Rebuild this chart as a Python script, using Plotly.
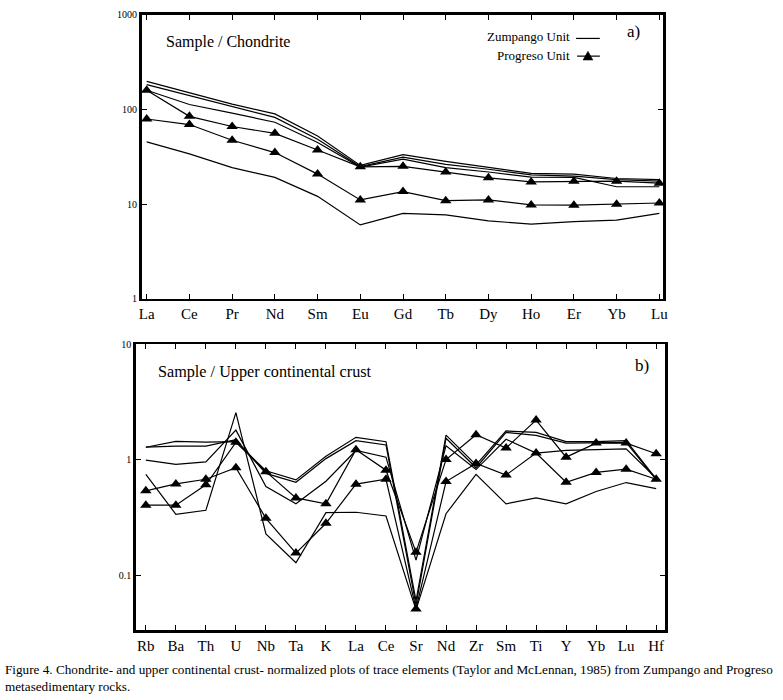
import plotly.graph_objects as go
import math

W, H = 783, 700

# ---------------- data: panel a (Sample / Chondrite) ----------------
ree = ["La", "Ce", "Pr", "Nd", "Sm", "Eu", "Gd", "Tb", "Dy", "Ho", "Er", "Yb", "Lu"]
zump_a1 = [198, 151, 114, 90, 52.5, 25.7, 33.4, 28.3, 24.7, 21.2, 20.8, 18.7, 18.2]
zump_a2 = [183, 140, 107, 82.6, 48.5, 25.0, 31.4, 26.3, 23.4, 20.4, 19.8, 18.2, 17.5]
zump_a3 = [160, 113, 91.6, 73.4, 44.9, 24.7, 29.9, 24.3, 21.9, 19.3, 19.2, 15.3, 15.3]
zump_a4 = [45.6, 34, 24.3, 19.2, 12.1, 6.05, 8.0, 7.7, 6.67, 6.16, 6.56, 6.78, 8.0]
prog_a1 = [160, 84.7, 66.2, 56, 37.4, 24.8, 25.1, 21.9, 19.0, 17.2, 17.5, 17.5, 16.7]
prog_a2 = [79.4, 69.4, 47.4, 35.1, 20.8, 11.1, 13.6, 10.9, 11.1, 9.84, 9.77, 10.0, 10.3]

# ---------------- data: panel b (Sample / Upper continental crust) ----------------
tr = ["Rb", "Ba", "Th", "U", "Nb", "Ta", "K", "La", "Ce", "Sr", "Nd", "Zr", "Sm", "Ti", "Y", "Yb", "Lu", "Hf"]
zump_b1 = [1.28, 1.44, 1.415, 1.43, 0.80, 0.667, 1.07, 1.56, 1.43, 0.060, 1.63, 0.90, 1.77, 1.72, 1.43, 1.43, 1.46, 0.68]
zump_b2 = [1.28, 1.31, 1.31, 1.49, 0.76, 0.637, 1.02, 1.46, 1.34, 0.055, 1.53, 0.85, 1.72, 1.62, 1.39, 1.40, 1.41, 0.67]
zump_b3 = [0.99, 0.91, 0.955, 1.80, 0.585, 0.414, 0.65, 1.20, 1.05, 0.135, 1.32, 0.82, 1.50, 1.14, 1.20, 1.22, 1.24, 0.69]
zump_b4 = [0.745, 0.336, 0.364, 2.55, 0.227, 0.128, 0.347, 0.35, 0.325, 0.050, 0.34, 0.745, 0.414, 0.466, 0.414, 0.53, 0.633, 0.56]
prog_b1 = [0.403, 0.403, 0.605, 1.41, 0.786, 0.466, 0.414, 1.22, 0.81, 0.158, 1.0, 1.64, 1.26, 2.2, 1.05, 1.39, 1.39, 1.125]
prog_b2 = [0.537, 0.616, 0.676, 0.85, 0.31, 0.155, 0.281, 0.613, 0.676, 0.051, 0.645, 0.925, 0.735, 1.14, 0.637, 0.775, 0.827, 0.676]

ticks_a = [1, 10, 100, 1000]
ticks_b = [0.1, 1, 10]

caption = ("Figure 4. Chondrite- and upper continental crust- normalized plots of trace elements "
           "(Taylor and McLennan, 1985) from Zumpango and Progreso<br>metasedimentary rocks.")

SERIF = '"Liberation Serif", "Times New Roman", serif'


def px(x):
    return x / W


def py(y):
    return 1 - y / H


fig = go.Figure()


def add(x, y, xa, ya, tri):
    fig.add_trace(go.Scatter(
        x=x, y=y, xaxis=xa, yaxis=ya,
        mode="lines+markers" if tri else "lines",
        line=dict(color="black", width=1.2),
        marker=dict(symbol="triangle-up", size=10, color="black"),
        showlegend=False, hoverinfo="skip"))


for s in (zump_a1, zump_a2, zump_a3, zump_a4):
    add(ree, s, "x", "y", False)
for s in (prog_a1, prog_a2):
    add(ree, s, "x", "y", True)
for s in (zump_b1, zump_b2, zump_b3, zump_b4):
    add(tr, s, "x2", "y2", False)
for s in (prog_b1, prog_b2):
    add(tr, s, "x2", "y2", True)

axis_common = dict(showline=True, linecolor="black", linewidth=2.5, mirror="allticks",
                   ticks="inside", ticklen=5, tickwidth=1, tickcolor="black",
                   showgrid=False, zeroline=False)

fig.update_layout(
    width=W, height=H,
    margin=dict(l=0, r=0, t=0, b=0),
    paper_bgcolor="white", plot_bgcolor="white",
    font=dict(family=SERIF, color="black"),
    xaxis=dict(domain=[px(140), px(667)], anchor="y", type="category",
               categoryorder="array", categoryarray=ree,
               range=[-0.12, 12.09], tickfont=dict(size=15, family=SERIF), **axis_common),
    yaxis=dict(domain=[py(298), py(9)], anchor="x", type="log", range=[0, 3],
               tickvals=ticks_a, ticktext=[str(v) for v in ticks_a],
               tickfont=dict(size=10, family=SERIF), **axis_common),
    xaxis2=dict(domain=[px(134), px(669)], anchor="y2", type="category",
                categoryorder="array", categoryarray=tr,
                range=[-0.34, 17.3], tickfont=dict(size=15, family=SERIF), **axis_common),
    yaxis2=dict(domain=[py(635), py(344)], anchor="x2", type="log",
                range=[math.log10(0.0334), 1],
                tickvals=ticks_b, ticktext=[str(v) for v in ticks_b],
                tickfont=dict(size=10, family=SERIF), **axis_common),
)

ann = []


def text(x, y, s, size, xanchor="left"):
    ann.append(dict(x=px(x), y=py(y), xref="paper", yref="paper", text=s, showarrow=False,
                    xanchor=xanchor, yanchor="middle", font=dict(size=size, family=SERIF, color="black")))


text(163, 37, "Sample / Chondrite", 16)
text(628, 26, "a)", 17)
text(575, 31, "Zumpango Unit", 13, "right")
text(575, 50, "Progreso Unit", 13, "right")
text(155, 372, "Sample / Upper continental crust", 16.2)
text(636, 366, "b)", 17)
ann.append(dict(x=px(0), y=py(665), xref="paper", yref="paper", text=caption, showarrow=False,
                xanchor="left", yanchor="top", align="left",
                font=dict(size=13.2, family=SERIF, color="black")))
fig.update_layout(annotations=ann)

shapes = [
    dict(type="line", xref="paper", yref="paper", x0=px(579), x1=px(603), y0=py(33), y1=py(33),
         line=dict(color="black", width=1.2)),
    dict(type="line", xref="paper", yref="paper", x0=px(580), x1=px(603), y0=py(51), y1=py(51),
         line=dict(color="black", width=1.2)),
    dict(type="path", xref="paper", yref="paper",
         path=f"M {px(586)},{py(55)} L {px(596)},{py(55)} L {px(591)},{py(46)} Z",
         fillcolor="black", line=dict(color="black", width=0.5)),
]
fig.update_layout(shapes=shapes)

fig.write_html("out.html", config={"displayModeBar": False, "staticPlot": True},
               post_script="document.body.style.margin='0px';")
